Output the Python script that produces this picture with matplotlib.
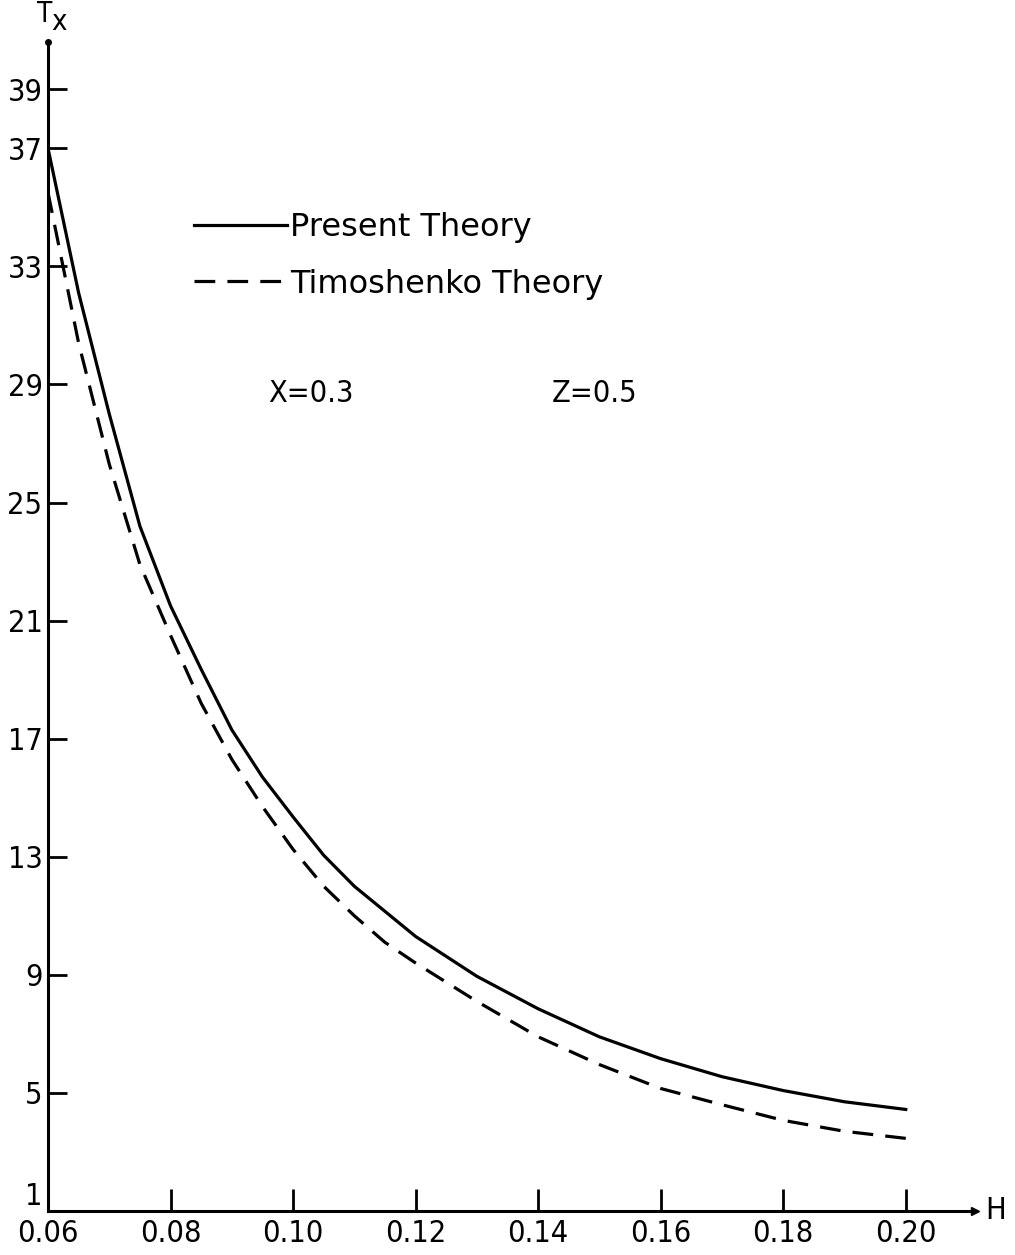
import numpy as np
import matplotlib.pyplot as plt
from matplotlib import font_manager

# narrow face if installed, else plain DejaVu
cond = [f for f in font_manager.fontManager.ttflist
        if f.name == 'DejaVu Sans' and f.stretch == 'condensed' and f.weight in (400, 'normal')]
narrow = {'family': 'DejaVu Sans', 'stretch': 'condensed' if cond else 'normal'}
shrink = 1.0 if cond else 0.92

# values
H = [0.06, 0.065, 0.07, 0.075, 0.08, 0.085, 0.09, 0.095, 0.10, 0.105, 0.11,
     0.115, 0.12, 0.13, 0.14, 0.15, 0.16, 0.17, 0.18, 0.19, 0.20]
present = [37.0, 32.1, 28.0, 24.2, 21.5, 19.35, 17.3, 15.7, 14.35, 13.05, 12.0,
           11.15, 10.3, 8.95, 7.85, 6.9, 6.16, 5.55, 5.08, 4.7, 4.44]
timoshenko = [35.5, 30.4, 26.3, 22.9, 20.5, 18.2, 16.3, 14.7, 13.25, 12.0, 11.0,
              10.1, 9.4, 8.1, 6.9, 5.96, 5.15, 4.6, 4.07, 3.7, 3.46]

xticks = [0.06, 0.08, 0.10, 0.12, 0.14, 0.16, 0.18, 0.20]
xlabels = ['0.06', '0.08', '0.10', '0.12', '0.14', '0.16', '0.18', '0.20']
yticks = [1, 5, 9, 13, 17, 21, 25, 29, 33, 37, 39]

fig = plt.figure(figsize=(10.15, 12.55), dpi=100)
ax = fig.add_axes([48/1015, 1 - 1211/1255, 927/1015, 1169/1255])

ax.plot(H, present, 'k-', lw=2.3, label='Present Theory')
ax.plot(H, timoshenko, 'k', lw=2.3, ls=(0, (6.5, 3.8)), label='Timoshenko Theory')

ax.set_xlim(0.06, 0.2113)
ax.set_ylim(1, 40.6)

for s in ['top', 'right']:
    ax.spines[s].set_visible(False)
for s in ['left', 'bottom']:
    ax.spines[s].set_linewidth(2.2)

ax.set_xticks(xticks)
ax.set_xticklabels(xlabels)
ax.set_yticks(yticks)
ax.tick_params(axis='x', direction='in', length=16, width=2, pad=6)
ax.tick_params(axis='y', direction='in', length=14, width=2, pad=4)
for lab in ax.get_xticklabels() + ax.get_yticklabels():
    lab.set_fontfamily(narrow['family'])
    lab.set_fontstretch(narrow['stretch'])
    lab.set_fontsize(22 * shrink)
# the "1" sits just above the H axis
ax.get_yticklabels()[0].set_verticalalignment('bottom')

# axis end dot / arrow
ax.plot(0, 1, 'ko', ms=4, transform=ax.transAxes, clip_on=False)
ax.plot(1, 0.0, 'k>', ms=6, transform=ax.transAxes, clip_on=False)

ax.text(-0.0119, 1.012, 'T', transform=ax.transAxes, fontsize=20, va='bottom', **narrow)
ax.text(0.0035, 1.005, 'x', transform=ax.transAxes, fontsize=21, va='bottom', **narrow)
ax.text(1.0108, -0.012, 'H', transform=ax.transAxes, fontsize=22, va='bottom', **narrow)

ax.legend(loc='upper left', bbox_to_anchor=(0.1575, 0.8546), frameon=False,
          fontsize=23, handlelength=2.9, handletextpad=0.1,
          borderpad=0, borderaxespad=0, labelspacing=0.8)

ax.text(0.2373, 0.692, 'X=0.3', transform=ax.transAxes, fontsize=22 * shrink, **narrow)
ax.text(0.5437, 0.692, 'Z=0.5', transform=ax.transAxes, fontsize=22 * shrink, **narrow)

fig.savefig('out.png', dpi=100)
